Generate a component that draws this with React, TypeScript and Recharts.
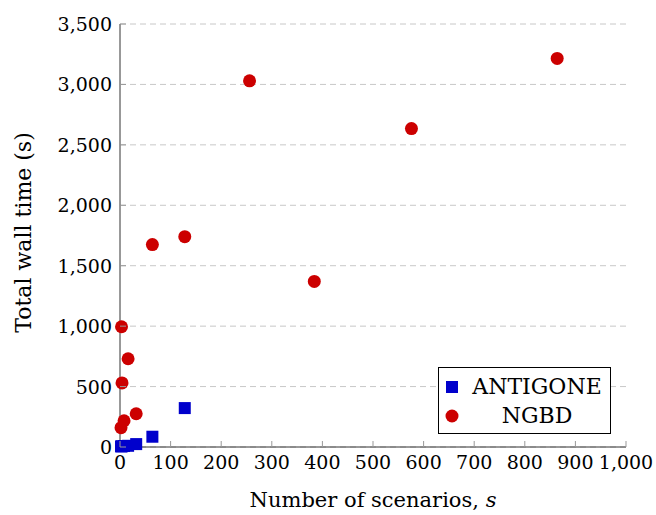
import { ScatterChart, Scatter, XAxis, YAxis, CartesianGrid, Legend } from 'recharts';

// values
const ngbdScenarios = [2, 3, 4, 8, 16, 32, 64, 128, 256, 384, 576, 864];
const ngbdTimes = [160, 995, 530, 217, 730, 275, 1675, 1740, 3030, 1370, 2635, 3215];
const antigoneScenarios = [2, 4, 8, 16, 32, 64, 128];
const antigoneTimes = [5, 6, 8, 10, 24, 85, 322];

const xTicks = [0, 100, 200, 300, 400, 500, 600, 700, 800, 900, 1000];
const yTicks = [0, 500, 1000, 1500, 2000, 2500, 3000, 3500];

const ngbdData = ngbdScenarios.map((s, i) => ({ s, t: ngbdTimes[i] }));
const antigoneData = antigoneScenarios.map((s, i) => ({ s, t: antigoneTimes[i] }));

const BLUE = '#0000cc';
const RED = '#cc0000';
const FONT = 'DejaVu Serif';
const TICK_FS = 19;
const LABEL_FS = 21;
const LEGEND_FS = 22;
const FRAME = '#333';
const TICK = '#999';

const fmt = (v: number) => v.toLocaleString('en-US');

function BottomTick({ x, y, payload }: any) {
  return (
    <g>
      <line x1={x} y1={y} x2={x} y2={y - 6} stroke={TICK} />
      <text x={x} y={y + 22} textAnchor="middle" fontFamily={FONT} fontSize={TICK_FS} fill="#000">
        {fmt(payload.value)}
      </text>
    </g>
  );
}

function LeftTick({ x, y, payload }: any) {
  return (
    <g>
      <line x1={x} y1={y} x2={x + 6} y2={y} stroke={TICK} />
      <text x={x - 8} y={y + 7} textAnchor="end" fontFamily={FONT} fontSize={TICK_FS} fill="#000">
        {fmt(payload.value)}
      </text>
    </g>
  );
}

function TopTick({ x, y }: any) {
  return <line x1={x} y1={y} x2={x} y2={y + 6} stroke={TICK} />;
}

function RightTick({ x, y }: any) {
  return <line x1={x} y1={y} x2={x - 6} y2={y} stroke={TICK} />;
}

function SquareMark({ cx, cy }: any) {
  return <rect x={cx - 6} y={cy - 6} width={12} height={12} fill={BLUE} />;
}

function CircleMark({ cx, cy }: any) {
  return <circle cx={cx} cy={cy} r={6.5} fill={RED} />;
}

function LegendBox({ payload }: any) {
  return (
    <div
      style={{
        width: 173,
        height: 67,
        boxSizing: 'border-box',
        border: '1px solid #000',
        background: '#fff',
        fontFamily: FONT,
        fontSize: LEGEND_FS,
        padding: '4px 0',
      }}
    >
      {(payload || []).map((p: any) => (
        <div key={p.value} style={{ display: 'flex', alignItems: 'center', height: 29 }}>
          <svg width={24} height={20} style={{ marginLeft: 1, flex: 'none' }}>
            {p.type === 'square' ? (
              <rect x={6} y={4} width={12} height={12} fill={p.color} />
            ) : (
              <circle cx={12} cy={10} r={6.5} fill={p.color} />
            )}
          </svg>
          <span style={{ flex: 1, textAlign: 'center', lineHeight: '29px', whiteSpace: 'nowrap' }}>{p.value}</span>
        </div>
      ))}
    </div>
  );
}

export default function App() {
  return (
    <div style={{ position: 'absolute', left: 0, top: 0, width: 656, height: 515, background: '#fff' }}>
      <ScatterChart width={656} height={515} margin={{ top: 24, right: 30, left: 20, bottom: 28 }}>
        <CartesianGrid vertical={false} stroke="#c8c8c8" strokeDasharray="6 4" />
        <XAxis
          type="number"
          dataKey="s"
          domain={[0, 1000]}
          ticks={xTicks}
          interval={0}
          height={40}
          tickSize={0}
          tickMargin={0}
          tickLine={false}
          axisLine={{ stroke: FRAME }}
          tick={<BottomTick />}
          label={{
            content: ({ viewBox }: any) => (
              <text
                x={viewBox.x + viewBox.width / 2}
                y={viewBox.y + 60}
                textAnchor="middle"
                fontFamily={FONT}
                fontSize={LABEL_FS}
                fill="#000"
              >
                Number of scenarios, <tspan fontStyle="italic">s</tspan>
              </text>
            ),
          }}
        />
        <XAxis
          xAxisId="top"
          orientation="top"
          type="number"
          dataKey="s"
          domain={[0, 1000]}
          ticks={xTicks}
          interval={0}
          height={0}
          tickSize={0}
          tickMargin={0}
          tickLine={false}
          axisLine={{ stroke: FRAME }}
          tick={<TopTick />}
        />
        <YAxis
          type="number"
          dataKey="t"
          domain={[0, 3500]}
          ticks={yTicks}
          interval={0}
          width={100}
          tickSize={0}
          tickMargin={0}
          tickLine={false}
          axisLine={{ stroke: FRAME }}
          tick={<LeftTick />}
          label={{
            content: ({ viewBox }: any) => {
              const cx = viewBox.x + 3;
              const cy = viewBox.y + viewBox.height / 2 - 3;
              return (
                <text
                  x={cx}
                  y={cy}
                  transform={`rotate(-90 ${cx} ${cy})`}
                  textAnchor="middle"
                  dominantBaseline="central"
                  fontFamily={FONT}
                  fontSize={LABEL_FS + 1}
                  fill="#000"
                >
                  Total wall time (s)
                </text>
              );
            },
          }}
        />
        <YAxis
          yAxisId="right"
          orientation="right"
          type="number"
          dataKey="t"
          domain={[0, 3500]}
          ticks={yTicks}
          interval={0}
          width={0}
          tickSize={0}
          tickMargin={0}
          tickLine={false}
          axisLine={{ stroke: FRAME }}
          tick={<RightTick />}
        />
        <Legend
          layout="vertical"
          align="center"
          verticalAlign="middle"
          content={<LegendBox />}
          wrapperStyle={{ left: 438, top: 367, width: 173, height: 67 }}
        />
        <Scatter
          name="ANTIGONE"
          data={antigoneData}
          fill={BLUE}
          legendType="square"
          shape={<SquareMark />}
          isAnimationActive={false}
        />
        <Scatter
          name="NGBD"
          data={ngbdData}
          fill={RED}
          legendType="circle"
          shape={<CircleMark />}
          isAnimationActive={false}
        />
      </ScatterChart>
    </div>
  );
}
